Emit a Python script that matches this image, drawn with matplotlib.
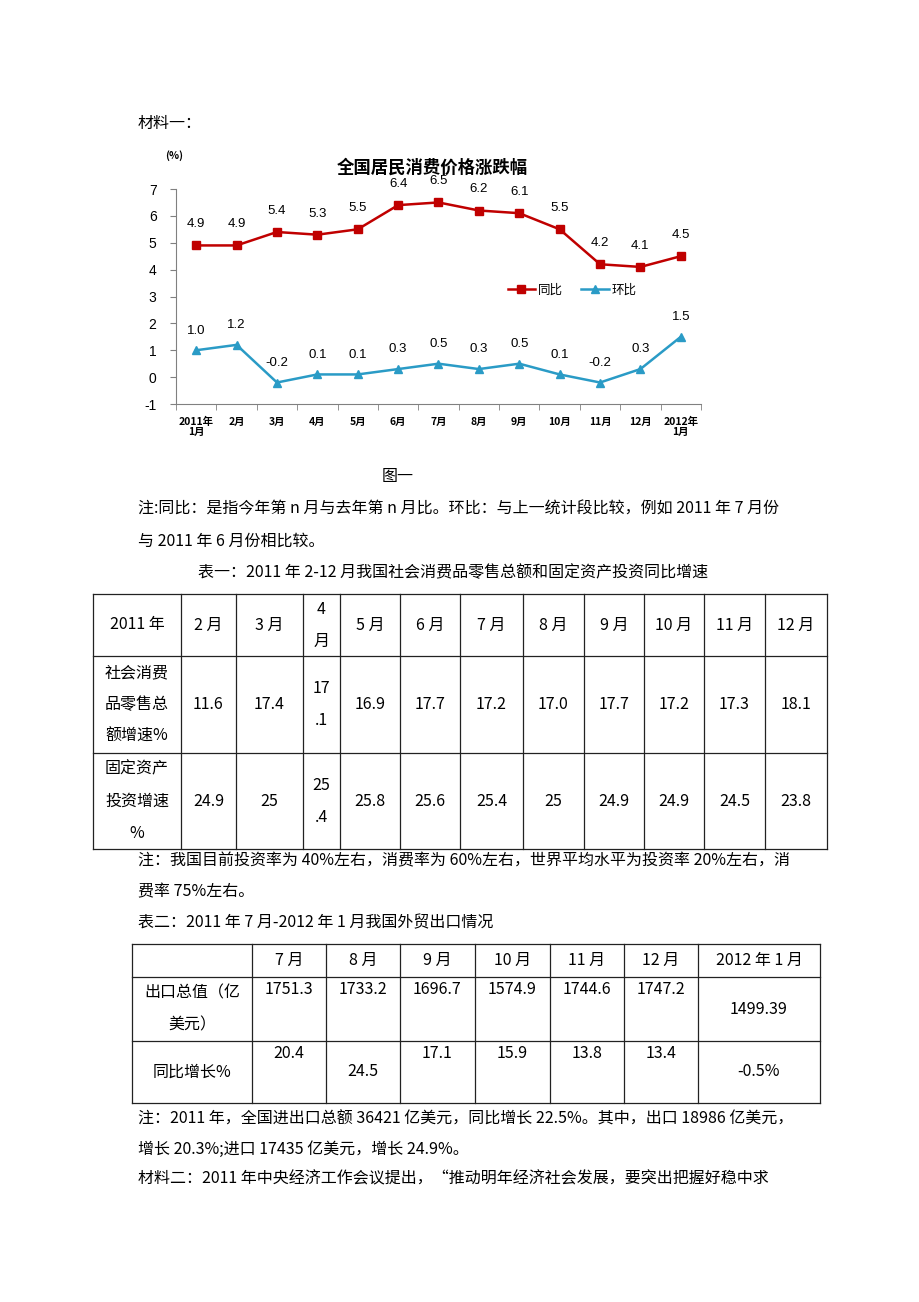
import numpy as np
import matplotlib.pyplot as plt

plt.rcParams['font.family'] = ['Noto Sans CJK SC', 'DejaVu Sans']

# chart data
months = ['2011年\n1月', '2月', '3月', '4月', '5月', '6月', '7月', '8月', '9月',
          '10月', '11月', '12月', '2012年\n1月']
tongbi = [4.9, 4.9, 5.4, 5.3, 5.5, 6.4, 6.5, 6.2, 6.1, 5.5, 4.2, 4.1, 4.5]
huanbi = [1.0, 1.2, -0.2, 0.1, 0.1, 0.3, 0.5, 0.3, 0.5, 0.1, -0.2, 0.3, 1.5]

# table one
t1_header = ['2011 年', '2 月', '3 月', '4\n月', '5 月', '6 月', '7 月', '8 月',
             '9 月', '10 月', '11 月', '12 月']
t1_rows = ['社会消费\n品零售总\n额增速%', '固定资产\n投资增速\n%']
retail = ['11.6', '17.4', '17\n.1', '16.9', '17.7', '17.2', '17.0', '17.7',
          '17.2', '17.3', '18.1']
invest = ['24.9', '25', '25\n.4', '25.8', '25.6', '25.4', '25', '24.9',
          '24.9', '24.5', '23.8']

# table two
t2_header = ['', '7 月', '8 月', '9 月', '10 月', '11 月', '12 月', '2012 年 1 月']
t2_rows = ['出口总值（亿\n美元）', '同比增长%']
export = ['1751.3', '1733.2', '1696.7', '1574.9', '1744.6', '1747.2', '1499.39']
growth = ['20.4', '24.5', '17.1', '15.9', '13.8', '13.4', '-0.5%']

FS = 11.5
LINE = 32
RED = '#C00000'
BLUE = '#2A9BC6'
LAT = ['Liberation Sans', 'Noto Sans CJK SC']

fig = plt.figure(figsize=(9.2, 13.02), dpi=100)
page = fig.add_axes([0, 0, 1, 1])
page.set_xlim(0, 920)
page.set_ylim(1302, 0)
page.axis('off')


def txt(x, y, s, ha='left', fs=FS, **kw):
    page.text(x, y, s, ha=ha, va='center', fontsize=fs, color='black', **kw)


def cell(x, y, s, va='center'):
    lines = s.split('\n')
    if va == 'center':
        y0 = y - (len(lines) - 1) * LINE / 2
    else:
        y0 = y
    for i, ln in enumerate(lines):
        txt(x, y0 + i * LINE, ln, ha='center')


def grid(xs, ys):
    for x in xs:
        page.plot([x, x], [ys[0], ys[-1]], color='#222222', lw=0.9)
    for y in ys:
        page.plot([xs[0], xs[-1]], [y, y], color='#222222', lw=0.9)


# ---- chart ----
ax = fig.add_axes([176 / 920, 1 - 404 / 1302, 525 / 920, 215 / 1302])
ax.set_facecolor('none')
x = np.arange(len(months))
ax.plot(x, tongbi, color=RED, lw=1.8, marker='s', ms=5.5, label='同比')
ax.plot(x, huanbi, color=BLUE, lw=1.8, marker='^', ms=6, label='环比')
for i in x:
    ax.annotate(f'{tongbi[i]:.1f}', (i, tongbi[i]), xytext=(0, 13),
                textcoords='offset points', ha='center', fontsize=9.5, family=LAT)
    ax.annotate(f'{huanbi[i]:.1f}', (i, huanbi[i]), xytext=(0, 12),
                textcoords='offset points', ha='center', fontsize=9.5, family=LAT)
ax.set_xlim(-0.5, len(months) - 0.5)
ax.set_ylim(-1, 7)
ax.set_yticks(range(-1, 8))
ax.set_yticklabels([str(v) for v in range(-1, 8)], family=LAT, fontsize=10)
ax.set_xticks(x)
ax.set_xticklabels(months, fontsize=7.5, family=['Noto Sans CJK SC'],
                   linespacing=1.0, weight='bold')
ax.set_xticks(np.arange(-0.5, len(months)), minor=True)
ax.tick_params(axis='x', which='major', length=0, pad=9)
ax.tick_params(axis='x', which='minor', length=4, direction='out', color='#808080')
ax.tick_params(axis='y', length=4, color='#808080', pad=10)
for s in ['top', 'right']:
    ax.spines[s].set_visible(False)
for s in ['left', 'bottom']:
    ax.spines[s].set_color('#808080')
ax.legend(loc='center', bbox_to_anchor=(572 / 920, 1 - 290 / 1302),
          bbox_transform=fig.transFigure, ncol=2, frameon=False, fontsize=9,
          handlelength=2.2, columnspacing=1.5, handletextpad=0.2)

txt(432, 168, '全国居民消费价格涨跌幅', ha='center', fs=12.5, weight='bold')
txt(174, 156, '(%)', ha='center', fs=7.5, weight='bold')

# ---- page text ----
txt(138, 123, '材料一：')
txt(398, 477, '图一', ha='center')
txt(138, 509, '注:同比：是指今年第 n 月与去年第 n 月比。环比：与上一统计段比较，例如 2011 年 7 月份')
txt(138, 541, '与 2011 年 6 月份相比较。')
txt(453, 573, '表一：2011 年 2-12 月我国社会消费品零售总额和固定资产投资同比增速', ha='center')

# ---- table one ----
t1_x = [93, 181, 236, 303, 340, 400, 460, 523, 584, 644, 704, 765, 827]
t1_y = [594, 656, 753, 849]
grid(t1_x, t1_y)
for j, h in enumerate(t1_header):
    cell((t1_x[j] + t1_x[j + 1]) / 2, (t1_y[0] + t1_y[1]) / 2, h)
for r, (lab, vals) in enumerate(zip(t1_rows, [retail, invest])):
    yc = (t1_y[r + 1] + t1_y[r + 2]) / 2
    cell((t1_x[0] + t1_x[1]) / 2, yc, lab)
    for j, v in enumerate(vals):
        cell((t1_x[j + 1] + t1_x[j + 2]) / 2, yc, v)

txt(138, 861, '注：我国目前投资率为 40%左右，消费率为 60%左右，世界平均水平为投资率 20%左右，消')
txt(138, 892, '费率 75%左右。')
txt(138, 923, '表二：2011 年 7 月-2012 年 1 月我国外贸出口情况')

# ---- table two ----
t2_x = [132, 252, 326, 400, 475, 550, 624, 698, 820]
t2_y = [944, 977, 1041, 1103]
grid(t2_x, t2_y)
for j, h in enumerate(t2_header):
    cell((t2_x[j] + t2_x[j + 1]) / 2, (t2_y[0] + t2_y[1]) / 2, h)
cell((t2_x[0] + t2_x[1]) / 2, (t2_y[1] + t2_y[2]) / 2, t2_rows[0])
cell((t2_x[0] + t2_x[1]) / 2, (t2_y[2] + t2_y[3]) / 2, t2_rows[1])
exp_top = [True] * 6 + [False]
gro_top = [True, False, True, True, True, True, False]
for j in range(len(export)):
    xc = (t2_x[j + 1] + t2_x[j + 2]) / 2
    if exp_top[j]:
        cell(xc, t2_y[1] + 12, export[j], va='top')
    else:
        cell(xc, (t2_y[1] + t2_y[2]) / 2, export[j])
    if gro_top[j]:
        cell(xc, t2_y[2] + 12, growth[j], va='top')
    else:
        cell(xc, (t2_y[2] + t2_y[3]) / 2, growth[j])

txt(138, 1119, '注：2011 年，全国进出口总额 36421 亿美元，同比增长 22.5%。其中，出口 18986 亿美元，')
txt(138, 1149, '增长 20.3%;进口 17435 亿美元，增长 24.9%。')
txt(138, 1179, '材料二：2011 年中央经济工作会议提出，“推动明年经济社会发展，要突出把握好稳中求')

fig.savefig('out.png', dpi=100, facecolor='white')
